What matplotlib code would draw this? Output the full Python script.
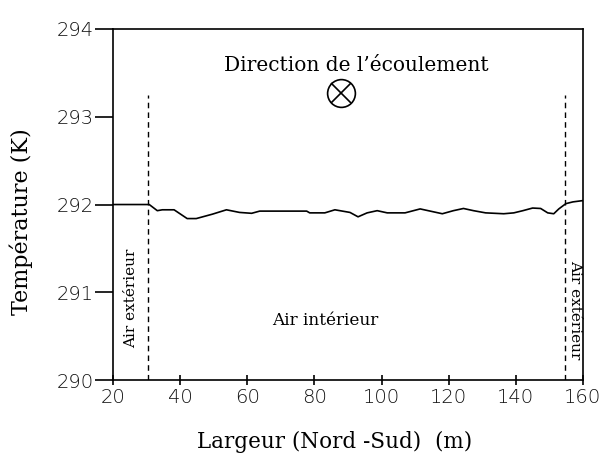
import matplotlib
matplotlib.use("Agg")
import matplotlib.pyplot as plt

# Temperature profile across the width (North-South)
largeur = [20.0, 30.8, 33.2, 34.7, 38.2, 42.1, 44.8, 49.6, 53.8, 57.7, 61.3, 63.7,
           77.7, 78.6, 83.1, 86.1, 90.6, 93.0, 95.7, 98.7, 101.7, 107.0, 111.5,
           114.5, 118.1, 121.4, 124.4, 127.4, 131.0, 136.4, 139.4, 142.1, 145.0,
           147.4, 149.5, 151.3, 152.8, 154.9, 157.0, 160.0]
temperature = [292.00, 292.00, 291.93, 291.94, 291.94, 291.84, 291.84, 291.89,
               291.94, 291.91, 291.90, 291.925, 291.925, 291.905, 291.905, 291.94,
               291.91, 291.86, 291.905, 291.93, 291.905, 291.905, 291.95, 291.925,
               291.895, 291.93, 291.955, 291.93, 291.905, 291.895, 291.905, 291.93,
               291.96, 291.955, 291.905, 291.895, 291.95, 292.01, 292.03, 292.045]

limites = [30.5, 154.5]       # outer/inner air boundaries
x_ticks = [20, 40, 60, 80, 100, 120, 140, 160]
y_ticks = [290, 291, 292, 293, 294]

serif = ["DejaVu Serif"]

fig = plt.figure(figsize=(6.01, 4.53), dpi=100)
ax = fig.add_axes([0.188, 0.161, 0.782, 0.775])

ax.plot(largeur, temperature, color="black", lw=1.2)
for xb in limites:
    ax.plot([xb, xb], [290, 293.25], color="black", lw=1.0,
            linestyle=(0, (4, 3)))

ax.set_xlim(20, 160)
ax.set_ylim(290, 294)
ax.set_xticks(x_ticks)
ax.set_yticks(y_ticks)
ax.tick_params(axis="y", direction="out", length=13, width=1.2,
               labelsize=14, pad=1)
ax.tick_params(axis="x", direction="inout", length=7, width=1.2,
               labelsize=14, pad=2)
for lbl in ax.get_xticklabels() + ax.get_yticklabels():
    lbl.set_family("DejaVu Sans")
    lbl.set_color("#111111")
    lbl.set_fontweight("light")
for s in ax.spines.values():
    s.set_linewidth(1.2)

ax.set_xlabel("Largeur (Nord -Sud)  (m)", family=serif, fontsize=15.5)
ax.xaxis.set_label_coords(0.472, -0.145)
ax.set_ylabel("Température (K)", family=serif, fontsize=16)
ax.yaxis.set_label_coords(-0.170, 0.45)

ax.text(92.4, 293.58, "Direction de l’écoulement", family=serif, fontsize=14.5,
        ha="center", va="center")
# flow direction symbol (into the page)
ax.plot([87.9], [293.27], marker="o", markersize=20, fillstyle="none",
        color="black", markeredgewidth=1.2)
ax.plot([87.9], [293.27], marker="x", markersize=14, color="black",
        markeredgewidth=1.2)

ax.text(83.1, 290.68, "Air intérieur", family=serif, fontsize=12.2,
        ha="center", va="center")
ax.text(25.5, 290.93, "Air extérieur", family=serif, fontsize=11,
        rotation=90, ha="center", va="center")
ax.text(157.6, 290.8, "Air extérieur", family=serif, fontsize=11,
        rotation=270, ha="center", va="center")

fig.savefig("out.png", dpi=100)
